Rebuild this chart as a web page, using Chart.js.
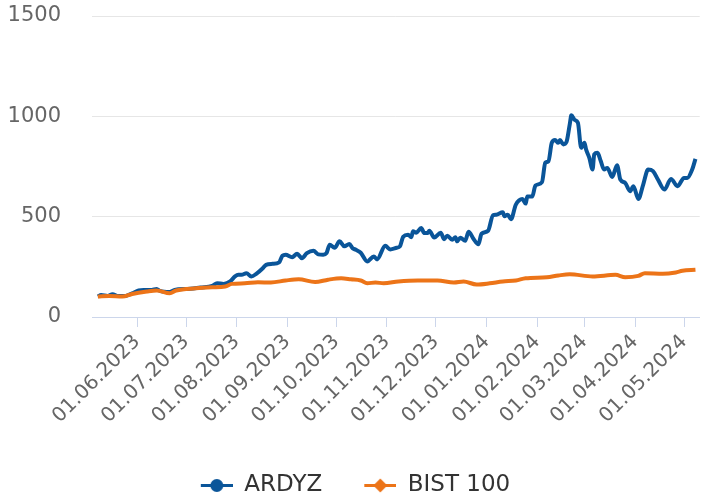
<!DOCTYPE html>
<html>
<head>
<meta charset="utf-8">
<script src="https://cdn.jsdelivr.net/npm/chart.js@4.4.1/dist/chart.umd.min.js"></script>
<style>
  html, body { margin: 0; padding: 0; background: #fff; overflow: hidden; }
  #chart { display: block; }
</style>
</head>
<body>
<canvas id="chart" width="704" height="499"></canvas>
<script>
// x-axis tick labels (first day of each month)
const tickLabels = ['01.06.2023', '01.07.2023', '01.08.2023', '01.09.2023', '01.10.2023', '01.11.2023',
  '01.12.2023', '01.01.2024', '01.02.2024', '01.03.2024', '01.04.2024', '01.05.2024'];
const yTicks = [0, 500, 1000, 1500];

// ARDYZ, normalised to 100 at start
const ardyzDates = ['2023-05-08', '2023-05-10', '2023-05-14', '2023-05-17', '2023-05-20', '2023-05-25', '2023-05-29',
  '2023-06-02', '2023-06-05', '2023-06-10', '2023-06-13', '2023-06-15', '2023-06-21', '2023-06-24',
  '2023-07-02', '2023-07-10', '2023-07-17', '2023-07-20', '2023-07-24', '2023-07-28', '2023-07-31',
  '2023-08-02', '2023-08-04', '2023-08-07', '2023-08-10', '2023-08-13', '2023-08-17', '2023-08-19',
  '2023-08-23', '2023-08-27', '2023-08-29', '2023-08-31', '2023-09-04', '2023-09-07', '2023-09-10',
  '2023-09-13', '2023-09-17', '2023-09-20', '2023-09-23', '2023-09-25', '2023-09-27', '2023-09-30',
  '2023-10-03', '2023-10-06', '2023-10-09', '2023-10-11', '2023-10-13', '2023-10-16', '2023-10-20',
  '2023-10-24', '2023-10-26', '2023-10-31', '2023-11-03', '2023-11-07', '2023-11-09', '2023-11-11',
  '2023-11-14', '2023-11-16', '2023-11-17', '2023-11-19', '2023-11-22', '2023-11-24', '2023-11-26',
  '2023-11-27', '2023-11-30', '2023-12-04', '2023-12-06', '2023-12-08', '2023-12-11', '2023-12-13',
  '2023-12-14', '2023-12-16', '2023-12-19', '2023-12-21', '2023-12-24', '2023-12-27', '2023-12-29',
  '2024-01-02', '2024-01-05', '2024-01-07', '2024-01-11', '2024-01-12', '2024-01-14', '2024-01-16',
  '2024-01-19', '2024-01-23', '2024-01-25', '2024-01-26', '2024-01-29', '2024-01-31', '2024-02-04',
  '2024-02-06', '2024-02-08', '2024-02-10', '2024-02-12', '2024-02-14', '2024-02-15', '2024-02-17',
  '2024-02-19', '2024-02-21', '2024-02-22', '2024-02-24', '2024-02-26', '2024-02-28', '2024-03-01',
  '2024-03-02', '2024-03-04', '2024-03-06', '2024-03-07', '2024-03-09', '2024-03-11', '2024-03-13',
  '2024-03-15', '2024-03-18', '2024-03-21', '2024-03-23', '2024-03-26', '2024-03-29', '2024-03-31',
  '2024-04-03', '2024-04-06', '2024-04-09', '2024-04-12', '2024-04-15', '2024-04-19', '2024-04-23',
  '2024-04-27', '2024-05-01', '2024-05-03', '2024-05-06', '2024-05-08'];
const ardyzValues = [102, 110, 105, 113, 105, 105, 118,
  132, 135, 135, 140, 130, 124, 135,
  140, 147, 155, 168, 165, 177, 202,
  210, 210, 218, 202, 215, 243, 260,
  265, 272, 305, 310, 298, 315, 293,
  318, 330, 312, 310, 318, 360, 345,
  377, 352, 364, 343, 335, 320, 277,
  302, 287, 355, 337, 345, 352, 400,
  410, 398, 427, 420, 443, 418, 418,
  430, 396, 420, 388, 405, 385, 398,
  377, 395, 380, 425, 390, 362, 415,
  430, 507, 510, 522, 502, 510, 487,
  560, 588, 565, 600, 600, 655, 672,
  768, 777, 868, 882, 868, 882, 860,
  872, 960, 1005, 982, 968, 843, 868,
  835, 793, 735, 810, 818, 777, 735,
  743, 698, 756, 685, 668, 627, 652,
  588, 660, 735, 727, 685, 635, 688,
  652, 693, 693, 735, 788];

// BIST 100, normalised to 100 at start
const bistDates = ['2023-05-08', '2023-05-15', '2023-05-23', '2023-05-29', '2023-06-07', '2023-06-13', '2023-06-21',
  '2023-06-25', '2023-07-07', '2023-07-17', '2023-07-25', '2023-07-29', '2023-08-06', '2023-08-14',
  '2023-08-22', '2023-08-31', '2023-09-08', '2023-09-18', '2023-09-26', '2023-10-04', '2023-10-10',
  '2023-10-16', '2023-10-20', '2023-10-25', '2023-10-30', '2023-11-08', '2023-11-20', '2023-12-02',
  '2023-12-12', '2023-12-18', '2023-12-26', '2024-01-03', '2024-01-11', '2024-01-19', '2024-01-25',
  '2024-02-07', '2024-02-14', '2024-02-21', '2024-03-06', '2024-03-20', '2024-03-26', '2024-04-03',
  '2024-04-07', '2024-04-18', '2024-04-26', '2024-04-30', '2024-05-08'];
const bistValues = [102, 105, 102, 115, 127, 132, 118,
  132, 143, 148, 152, 165, 168, 173,
  172, 182, 188, 174, 186, 193, 188,
  182, 168, 172, 168, 177, 182, 182,
  172, 177, 162, 168, 177, 182, 193,
  198, 207, 213, 202, 210, 198, 205,
  218, 215, 222, 230, 235];

const BLUE = '#0a5599';
const ORANGE = '#ec7418';
const FONT = 'DejaVu Sans';
const DAY = 86400000;

function isoDay(s) {
  const [y, m, d] = s.split('-').map(Number);
  return Date.UTC(y, m - 1, d) / DAY;
}
function dottedDay(s) {
  const [d, m, y] = s.split('.').map(Number);
  return Date.UTC(y, m - 1, d) / DAY;
}

// legend marker: short line with a circle or diamond on it
function legendIcon(color, shape) {
  const c = document.createElement('canvas');
  c.width = 39;
  c.height = 15;
  const g = c.getContext('2d');
  g.strokeStyle = color;
  g.lineWidth = 3;
  g.beginPath();
  g.moveTo(7, 7.5);
  g.lineTo(39, 7.5);
  g.stroke();
  g.fillStyle = color;
  g.beginPath();
  if (shape === 'circle') {
    g.arc(23, 7.5, 6.5, 0, Math.PI * 2);
  } else {
    g.moveTo(23, 0.5);
    g.lineTo(30, 7.5);
    g.lineTo(23, 14.5);
    g.lineTo(16, 7.5);
    g.closePath();
  }
  g.fill();
  return c;
}

const monthTicks = tickLabels.map(dottedDay);
const june1 = monthTicks[0];

new Chart(document.getElementById('chart'), {
  type: 'line',
  data: {
    datasets: [
      {
        label: 'ARDYZ',
        data: ardyzDates.map((d, i) => ({ x: isoDay(d), y: ardyzValues[i] })),
        borderColor: BLUE,
        backgroundColor: BLUE,
        borderWidth: 4,
        pointRadius: 0,
        cubicInterpolationMode: 'monotone',
        order: 1,
        icon: legendIcon(BLUE, 'circle'),
      },
      {
        label: 'BIST 100',
        data: bistDates.map((d, i) => ({ x: isoDay(d), y: bistValues[i] })),
        borderColor: ORANGE,
        backgroundColor: ORANGE,
        borderWidth: 4,
        pointRadius: 0,
        cubicInterpolationMode: 'monotone',
        order: 0,
        icon: legendIcon(ORANGE, 'diamond'),
      },
    ],
  },
  options: {
    responsive: false,
    animation: false,
    devicePixelRatio: 1,
    layout: { padding: { top: 16, left: 0, right: 0, bottom: 0 } },
    plugins: {
      legend: {
        position: 'bottom',
        sort: (a, b) => a.datasetIndex - b.datasetIndex,
        labels: {
          usePointStyle: true,
          pointStyleWidth: 39,
          padding: 35,
          color: '#333',
          font: { family: FONT, size: 23 },
          generateLabels: (chart) => chart.data.datasets.map((ds, i) => ({
            text: ds.label,
            pointStyle: ds.icon,
            datasetIndex: i,
            fontColor: '#333',
            fillStyle: ds.borderColor,
            strokeStyle: ds.borderColor,
            lineWidth: 0,
            hidden: false,
          })),
        },
      },
      tooltip: { enabled: false },
    },
    scales: {
      x: {
        type: 'linear',
        min: june1 - 27.6,
        max: june1 + 344.6,
        afterBuildTicks: (s) => { s.ticks = monthTicks.map(v => ({ value: v })); },
        afterFit: (s) => { s.height = 114; },
        grid: { drawOnChartArea: false, tickLength: 10, tickColor: '#ccd6eb' },
        border: { color: '#ccd6eb' },
        ticks: {
          autoSkip: false,
          minRotation: 45,
          maxRotation: 45,
          color: '#666',
          font: { family: FONT, size: 20 },
          callback: (v, i) => tickLabels[i],
        },
      },
      y: {
        min: 0,
        max: 1500,
        afterBuildTicks: (s) => { s.ticks = yTicks.map(v => ({ value: v })); },
        afterFit: (s) => { s.width = 92; },
        // invisible tick marks push the labels away from the plot
        grid: { color: '#e6e6e6', drawTicks: true, tickLength: 28, tickColor: 'rgba(0,0,0,0)' },
        border: { display: false },
        ticks: {
          padding: 3,
          color: '#666',
          font: { family: FONT, size: 21 },
          callback: (v) => String(v),
        },
      },
    },
  },
  plugins: [{
    id: 'legendShift',
    afterLayout(chart) {
      chart.legend.top += 8;
      chart.legend.bottom += 8;
    },
  }],
});
</script>
</body>
</html>
